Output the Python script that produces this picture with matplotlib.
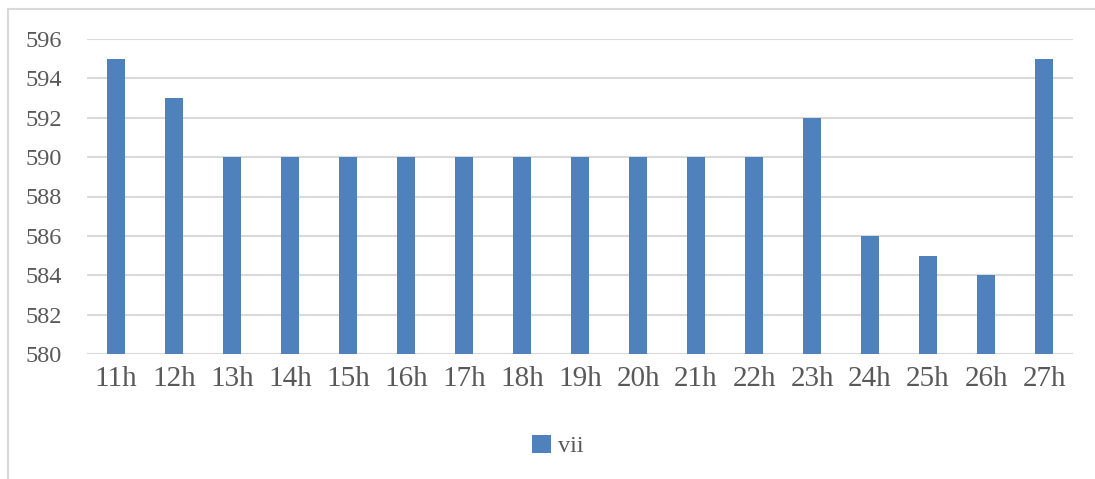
import matplotlib.pyplot as plt
from matplotlib.lines import Line2D

# Datos del gráfico
categorias = ['11h', '12h', '13h', '14h', '15h', '16h', '17h', '18h', '19h',
              '20h', '21h', '22h', '23h', '24h', '25h', '26h', '27h']
valores = [595, 593, 590, 590, 590, 590, 590, 590, 590,
           590, 590, 590, 592, 586, 585, 584, 595]
ticks_y = [580, 582, 584, 586, 588, 590, 592, 594, 596]

plt.rcParams['font.family'] = ['Liberation Serif', 'DejaVu Serif']
gris = '#595959'
azul = '#4f81bd'

fig = plt.figure(figsize=(10.95, 4.79), dpi=100)
ax = fig.add_axes([87 / 1095, 1 - 354 / 479, (1073 - 87) / 1095, (354 - 39) / 479])

x = range(len(categorias))
ax.bar(x, [v - 580 for v in valores], bottom=580, width=0.31, color=azul,
       label='vii', zorder=3)

ax.set_xlim(-0.5, len(categorias) - 0.5)
ax.set_ylim(580, 596)
ax.set_yticks(ticks_y)
ax.set_yticklabels([str(t) for t in ticks_y], fontsize=17.5, color=gris)
ax.set_xticks(list(x))
ax.set_xticklabels(categorias, fontsize=21, color=gris)
ax.tick_params(axis='both', length=0)
ax.tick_params(axis='y', pad=18)
ax.tick_params(axis='x', pad=9)
ax.grid(axis='y', color='#d9d9d9', linewidth=1.5, zorder=0)
for s in ax.spines.values():
    s.set_visible(False)

# Leyenda abajo al centro
ax.legend(loc='center', bbox_to_anchor=(558 / 1095, 1 - 446 / 479),
          bbox_transform=fig.transFigure, frameon=False, fontsize=17.5,
          labelcolor=gris, handlelength=0.75, handleheight=0.75, handletextpad=0.3)

# Marco del gráfico
fig.add_artist(Line2D([8 / 1095, 8 / 1095], [0, 1 - 9 / 479], color='#d9d9d9',
                      linewidth=1.5, transform=fig.transFigure))
fig.add_artist(Line2D([8 / 1095, 1], [1 - 9 / 479, 1 - 9 / 479], color='#d9d9d9',
                      linewidth=1.5, transform=fig.transFigure))

fig.savefig('out.png', dpi=100)
